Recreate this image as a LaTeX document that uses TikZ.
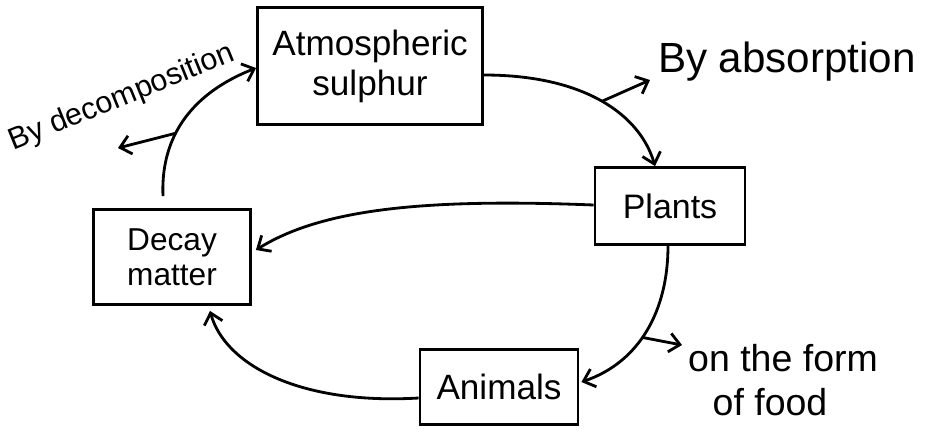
\documentclass[tikz,border=0pt]{standalone}
\usepackage{fontspec}
\setmainfont{Liberation Sans}
\usetikzlibrary{arrows.meta,calc}
\begin{document}
\begin{tikzpicture}[x=0.03cm,y=-0.03cm,
  box/.style={draw,line width=2.4pt,align=center,inner sep=0pt,
    font=\fontsize{30}{34}\selectfont},
  flow/.style={line width=2.4pt,-{Straight Barb[length=9pt,width=16pt,line width=2.4pt]}},
  lbl/.style={font=\fontsize{32}{36}\selectfont,align=center,inner sep=0pt}]
\useasboundingbox (0,0) rectangle (934,437);
% the four stations of the cycle
\node[box,minimum width=6.75cm,minimum height=3.51cm] (atm) at (370,66) {Atmospheric\\sulphur};
\node[box,minimum width=4.5cm,minimum height=2.31cm,font=\fontsize{29}{33}\selectfont] (plants) at (670,206) {Plants};
\node[box,minimum width=4.71cm,minimum height=2.85cm,font=\fontsize{27}{30}\selectfont] (decay) at (172,257) {Decay\\matter};
\node[box,minimum width=4.74cm,minimum height=2.25cm] (animals) at (499,387) {Animals};
% labels
\node[lbl,font=\fontsize{36}{40}\selectfont] (absorb) at (787,62) {By absorption};
\node[lbl,anchor=west] (food) at (688,358) {on the form};
\node[lbl] (food2) at (770,402) {of food};
\node[lbl,rotate=22,font=\fontsize{26}{30}\selectfont] (decomp) at (122,98) {By decomposition};
% connectors
\draw[flow] ($(atm.east)+(0,9)$) .. controls (585,75) and (640,115) .. ($(plants.north)+(-15,0)$)
  coordinate[pos=0.5] (b1);
\coordinate (t1) at (650,80);
\draw[flow] (b1) -- (t1);
\draw[flow] ($(plants.south)+(-2,0)$) .. controls (668,310) and (640,362) .. ($(animals.east)+(2,-5)$)
  coordinate[pos=0.55] (b2);
\coordinate (t2) at (682,345);
\draw[flow] (b2) -- (t2);
\draw[flow] ($(plants.west)+(0,-1)$) .. controls (420,198) and (320,210) .. ($(decay.east)+(4,-7)$);
\draw[flow] ($(animals.west)+(0,11)$) .. controls (300,405) and (225,365) .. ($(decay.south)+(38,5)$);
\draw[flow] ($(decay.north)+(-9,-12)$) .. controls (160,125) and (205,88) .. ($(atm.west)+(0,2)$)
  coordinate[pos=0.35] (b3);
\coordinate (t3) at (118,148);
\draw[flow] (b3) -- (t3);
\end{tikzpicture}
\end{document}
